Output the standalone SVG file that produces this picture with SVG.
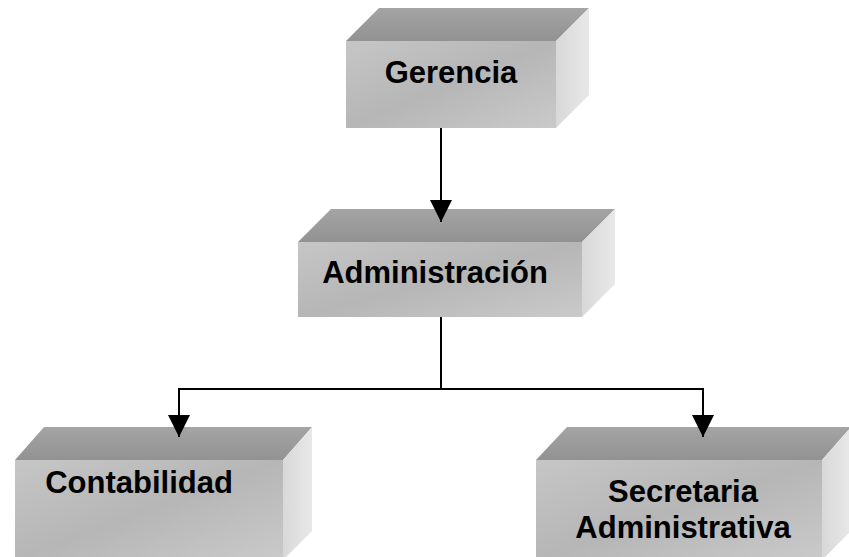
<svg xmlns="http://www.w3.org/2000/svg" width="849" height="557" viewBox="0 0 849 557">
  <style>
    .front { fill: url(#gFront); }
    .top { fill: url(#gTop); }
    .side { fill: url(#gSide); }
    .label { font-family: "Liberation Sans", Arial, sans-serif; font-weight: bold; font-size: 31px; fill: #000; text-anchor: middle; }
    .wire { fill: none; stroke: #000; stroke-width: 2; }
  </style>
  <defs>
    <linearGradient id="gFront" x1="0" y1="0" x2="1" y2="1">
      <stop offset="0" stop-color="#c6c6c6"/>
      <stop offset="0.5" stop-color="#b6b6b6"/>
      <stop offset="1" stop-color="#cacaca"/>
    </linearGradient>
    <linearGradient id="gTop" x1="0" y1="0" x2="0" y2="1">
      <stop offset="0" stop-color="#a4a4a4"/>
      <stop offset="1" stop-color="#929292"/>
    </linearGradient>
    <linearGradient id="gSide" x1="0" y1="0" x2="1" y2="0">
      <stop offset="0" stop-color="#d8d8d8"/>
      <stop offset="1" stop-color="#e8e8e8"/>
    </linearGradient>
    <marker id="arrow" markerUnits="userSpaceOnUse" markerWidth="22" markerHeight="22" viewBox="0 0 22 22" refX="22" refY="11" orient="auto">
      <path d="M0,0 L22,11 L0,22 Z" fill="#000"/>
    </marker>
  </defs>

  <!-- Gerencia -->
  <g id="gerencia">
    <rect class="front" x="346" y="41" width="210" height="87"/>
    <polygon class="top" points="346,41 379,8 589,8 556,41"/>
    <polygon class="side" points="556,41 589,8 589,95 556,128"/>
    <text class="label" x="451" y="83">Gerencia</text>
  </g>

  <!-- Administración -->
  <g id="administracion">
    <rect class="front" x="298" y="242" width="284" height="75"/>
    <polygon class="top" points="298,242 331,209 615,209 582,242"/>
    <polygon class="side" points="582,242 615,209 615,284 582,317"/>
    <text class="label" x="435" y="283">Administración</text>
  </g>

  <!-- Contabilidad -->
  <g id="contabilidad">
    <rect class="front" x="15" y="460" width="268" height="100"/>
    <polygon class="top" points="15,460 44,427 312,427 283,460"/>
    <polygon class="side" points="283,460 312,427 312,531 283,560"/>
    <text class="label" x="139" y="493">Contabilidad</text>
  </g>

  <!-- Secretaria Administrativa -->
  <g id="secretaria">
    <rect class="front" x="536" y="460" width="286" height="100"/>
    <polygon class="top" points="536,460 567,427 851,427 822,460"/>
    <polygon class="side" points="822,460 851,427 851,531 822,560"/>
    <text class="label" x="683" y="502">Secretaria</text>
    <text class="label" x="683" y="538">Administrativa</text>
  </g>

  <!-- connectors -->
  <g id="connectors">
    <line class="wire" x1="441" y1="128" x2="441" y2="222" marker-end="url(#arrow)"/>
    <line class="wire" x1="441" y1="317" x2="441" y2="389"/>
    <polyline class="wire" points="441,389 179,389 179,437" marker-end="url(#arrow)"/>
    <polyline class="wire" points="441,389 703,389 703,437" marker-end="url(#arrow)"/>
  </g>
</svg>
